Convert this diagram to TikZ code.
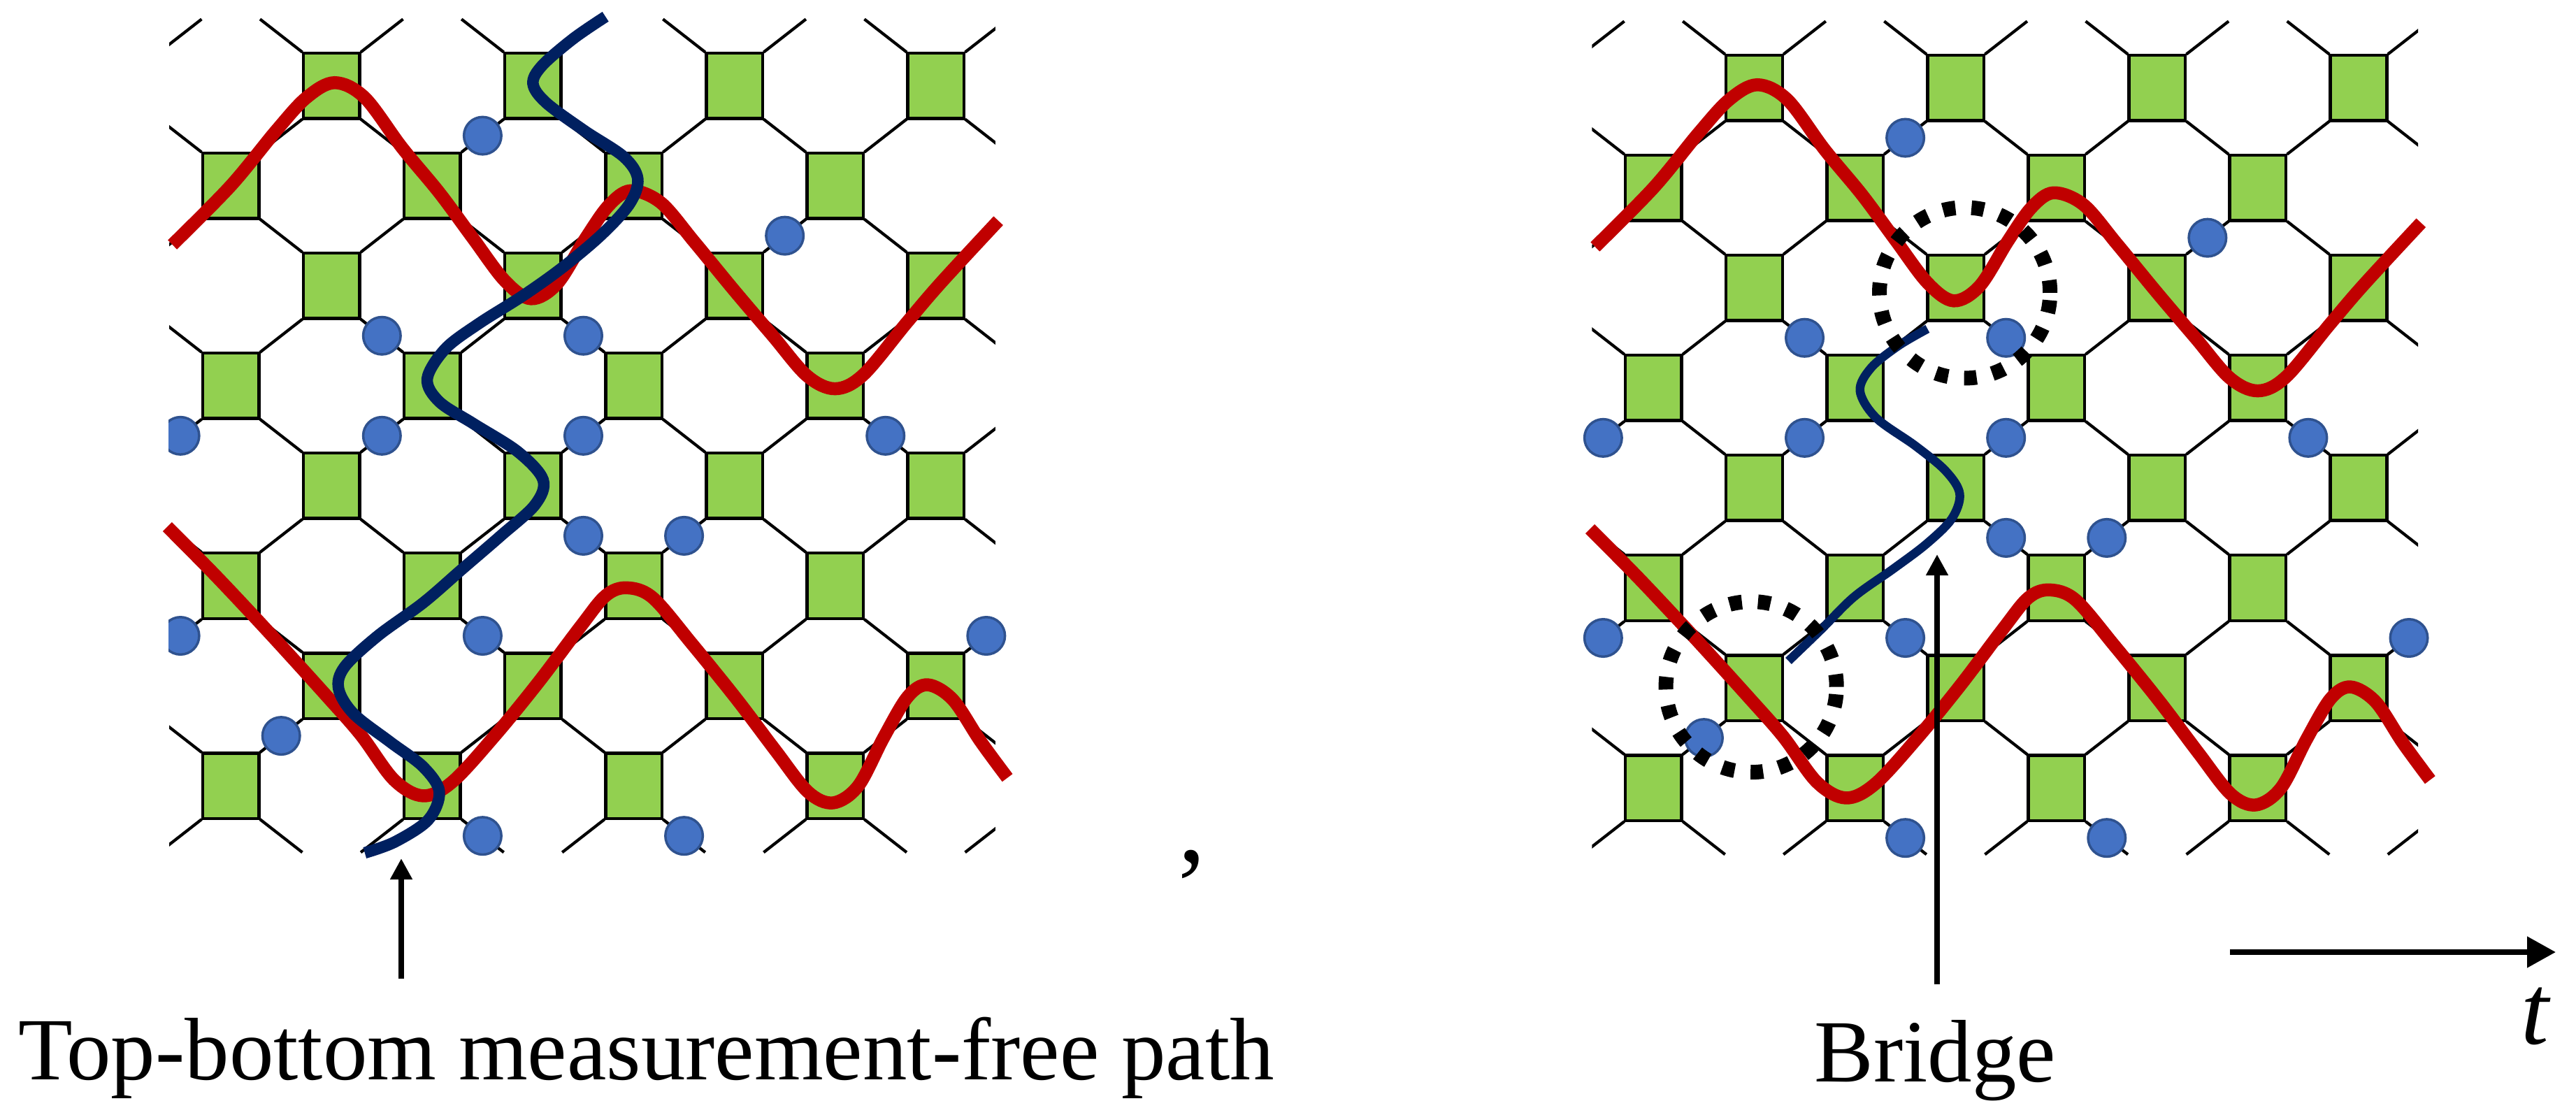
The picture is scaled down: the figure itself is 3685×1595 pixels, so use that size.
\documentclass[tikz,border=0pt]{standalone}
\usepackage{fontspec}
\setmainfont{Liberation Serif}
\usetikzlibrary{arrows.meta}
\definecolor{sqgreen}{HTML}{92D050}
\definecolor{wred}{HTML}{C00000}
\definecolor{wblue}{HTML}{002060}
\definecolor{dotfill}{HTML}{4472C4}
\definecolor{dotedge}{HTML}{2F528F}
\tikzset{
  sqbox/.style={draw=black, line width=0.045cm, fill=sqgreen, minimum width=0.805cm, minimum height=0.935cm, inner sep=0pt, outer sep=0pt},
  qdot/.style={circle, draw=dotedge, line width=0.035cm, fill=dotfill, minimum size=0.535cm, inner sep=0pt},
  latline/.style={black, line width=0.042cm},
  redpath/.style={wred, line width=0.185cm},
  bluepath/.style={wblue, line width=0.165cm},
  ringstyle/.style={black, line width=0.21cm, dash pattern=on 0.18cm off 0.23cm},
  pointer/.style={black, line width=0.085cm, -{Triangle[length=0.3cm,width=0.3cm]}},
  timearrow/.style={black, line width=0.08cm, -{Triangle[length=0.41cm,width=0.43cm]}},
  lab/.style={anchor=base west, inner sep=0pt, font=\fontsize{36.1pt}{43pt}\selectfont},
}
% #1 = name prefix, #2 = left clip bound for dots
\newcommand{\latticepanel}[2]{%
  \begin{scope}
    \clip (0.389,0.2) rectangle (8.59,8.8);
    \foreach \c in {0,...,8}{
      \foreach \r in {0,...,9}{
        \pgfmathtruncatemacro{\parity}{mod(\c+\r,2)}
        \ifnum\parity=1
          \draw[latline] (\c+0.29,\r+0.335) -- (\c+0.71,\r+0.665);
          \draw[latline] (\c+0.29,\r-0.335) -- (\c+0.71,\r-0.665);
        \fi
      }
    }
  \end{scope}
  \foreach \c in {1,...,8}{
    \foreach \r in {1,...,8}{
      \pgfmathtruncatemacro{\parity}{mod(\c+\r,2)}
      \ifnum\parity=1
        \node[sqbox] (#1-sq-\c-\r) at (\c,\r) {};
      \fi
    }
  }
  \begin{scope}
    \clip (#2,0) rectangle (9.5,9.5);
    \foreach \u/\v [count=\k] in {3.5/1.5, 6.5/2.5, 2.5/3.5, 4.5/3.5, 0.5/4.5, 2.5/4.5, 4.5/4.5, 7.5/4.5,
                                  4.5/5.5, 5.5/5.5, 0.5/6.5, 3.5/6.5, 8.5/6.5, 1.5/7.5, 3.5/8.5, 5.5/8.5}
      \node[qdot] (#1-dot-\k) at (\u,\v) {};
  \end{scope}
  \draw[redpath] plot[smooth, tension=0.55] coordinates {
    (0.42,2.59) (1.0,2.0) (1.45,1.45) (1.75,1.12) (2.03,0.97) (2.33,1.12) (2.7,1.62)
    (3.07,2.07) (3.4,2.52) (3.72,2.95) (3.98,3.13) (4.24,2.98) (4.52,2.53) (4.75,2.2)
    (4.97,2.05) (5.27,2.17) (5.6,2.56) (6.0,3.05) (6.38,3.5) (6.72,3.9) (7.0,4.03)
    (7.28,3.89) (7.71,3.37) (8.05,2.97) (8.62,2.35)};
  \draw[redpath] plot[smooth, tension=0.55] coordinates {
    (0.37,5.41) (0.86,5.91) (1.4,6.49) (1.95,7.10) (2.29,7.49) (2.62,7.94) (2.91,8.10)
    (3.2,7.96) (3.62,7.5) (4.05,6.97) (4.47,6.41) (4.72,6.10) (4.93,6.02) (5.19,6.12)
    (5.57,6.57) (6.02,7.13) (6.41,7.65) (6.73,8.06) (6.98,8.17) (7.23,8.0) (7.48,7.52)
    (7.72,7.11) (7.92,6.99) (8.17,7.14) (8.44,7.55) (8.71,7.92)};
}
\begin{document}
\begin{tikzpicture}[x=0.01cm, y=-0.01cm]
  \useasboundingbox[fill=white] (0,0) rectangle (3685,1595);
  % left panel
  \begin{scope}[xshift=1.86cm, yshift=0.205cm, x=1.44cm, y=-1.43cm]
    \latticepanel{L}{0.382}
    \draw[bluepath] plot[smooth, tension=0.55] coordinates {
      (4.72,0.31) (4.40,0.53) (4.09,0.80) (4.00,0.98) (4.13,1.17) (4.51,1.45) (4.90,1.71)
      (5.04,1.93) (4.96,2.18) (4.68,2.49) (4.29,2.82) (3.90,3.10) (3.46,3.38) (3.13,3.63)
      (2.95,3.93) (3.07,4.16) (3.41,4.38) (3.85,4.66) (4.10,4.94) (4.02,5.19) (3.68,5.50)
      (3.30,5.83) (2.91,6.17) (2.46,6.50) (2.13,6.81) (2.07,7.03) (2.22,7.28) (2.58,7.56)
      (2.91,7.81) (3.07,8.06) (2.96,8.34) (2.63,8.56) (2.33,8.67)};
  \end{scope}
  % right panel
  \begin{scope}[xshift=22.20cm, yshift=0.175cm, x=1.44cm, y=-1.43cm]
    \latticepanel{R}{-1}
    \draw[bluepath, line width=0.125cm] plot[smooth, tension=0.55] coordinates {
      (3.72,3.41) (3.43,3.58) (3.16,3.80) (3.05,4.03) (3.21,4.30) (3.60,4.58) (3.90,4.83)
      (4.04,5.06) (3.96,5.31) (3.71,5.56) (3.38,5.81) (2.99,6.09) (2.66,6.42) (2.34,6.73)};
    \draw[ringstyle] (4.09,3.05) circle[radius=1.22cm];
    \draw[ringstyle] (1.97,6.99) circle[radius=1.22cm];
  \end{scope}
  % arrows
  \coordinate (tailL) at (574,1400);
  \coordinate (headL) at (574,1228);
  \draw[pointer] (tailL) -- (headL);
  \coordinate (tailR) at (2771,1408);
  \coordinate (headR) at (2771,793);
  \draw[pointer] (tailR) -- (headR);
  \coordinate (tailT) at (3190,1362);
  \coordinate (headT) at (3656,1362);
  \draw[timearrow] (tailT) -- (headT);
  % texts
  \node[lab] (labL) at (26,1544) {Top-bottom measurement-free path};
  \node[lab] (labR) at (2595,1547) {Bridge};
  \node[anchor=base west, inner sep=0pt, font=\fontsize{40.7pt}{48pt}\selectfont\itshape] (tlab) at (3606,1493) {t};
  \node[anchor=base west, inner sep=0pt, font=\fontsize{45pt}{54pt}\selectfont] (comma) at (1685,1232) {,};
\end{tikzpicture}
\end{document}
